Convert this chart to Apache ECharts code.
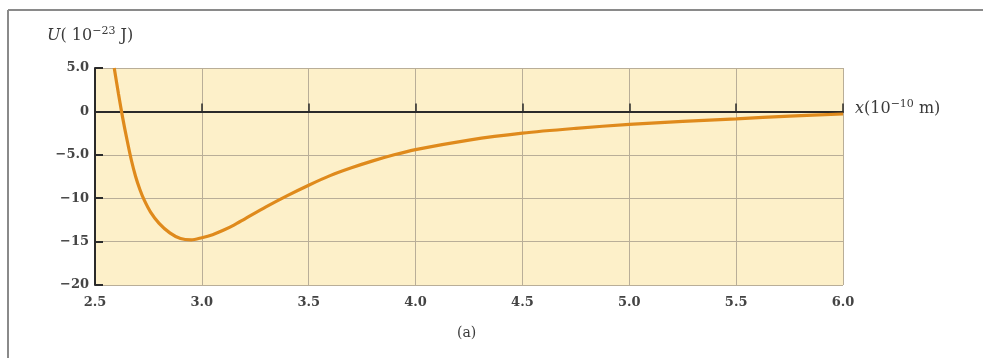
<!DOCTYPE html>
<html>
<head>
<meta charset="utf-8">
<script src="https://cdn.jsdelivr.net/npm/echarts@6/dist/echarts.min.js"></script>
<style>html,body{margin:0;padding:0;background:#fff}#c{width:983px;height:358px}</style>
</head>
<body>
<div id="c"></div>
<script>
const xValues = [2.59, 2.61, 2.63, 2.65, 2.67, 2.69, 2.71, 2.73, 2.76, 2.80, 2.85, 2.90, 2.95, 3.0, 3.05, 3.10, 3.15, 3.2, 3.3, 3.4, 3.5, 3.6, 3.7, 3.8, 3.9, 4.0, 4.25, 4.5, 4.75, 5.0, 5.25, 5.5, 5.75, 6.0];
const uValues = [5.0, 2.0, -0.8, -3.3, -5.6, -7.5, -9.0, -10.2, -11.6, -12.9, -14.0, -14.65, -14.8, -14.55, -14.2, -13.7, -13.1, -12.4, -11.0, -9.7, -8.5, -7.4, -6.5, -5.7, -5.0, -4.4, -3.3, -2.5, -1.95, -1.5, -1.15, -0.85, -0.55, -0.3];
const xTickLabels = {2.5: '2.5', 3: '3.0', 3.5: '3.5', 4: '4.0', 4.5: '4.5', 5: '5.0', 5.5: '5.5', 6: '6.0'};
const yTickLabels = {5: '5.0', 0: '0', '-5': '\u22125.0', '-10': '\u221210', '-15': '\u221215', '-20': '\u221220'};

const serif = '"DejaVu Serif", "Liberation Serif", serif';
const labelStyle = {fontFamily: serif, fontSize: 13, fontWeight: 'bold', color: '#444'};
const gridColor = '#b9ae98';
const txt = '#3a3a3a';

const chart = echarts.init(document.getElementById('c'), null, {renderer: 'canvas'});
chart.setOption({
  animation: false,
  backgroundColor: '#fff',
  grid: {left: 95, right: 140, top: 68, bottom: 73, show: true, backgroundColor: '#fdf0c9', borderWidth: 0},
  xAxis: [{
    type: 'value', min: 2.5, max: 6.0, interval: 0.5,
    axisLine: {show: true, onZero: true, lineStyle: {color: '#2a2a2a', width: 2}},
    axisTick: {show: true, inside: true, length: 8, lineStyle: {color: '#2a2a2a', width: 1.5}},
    axisLabel: {show: false},
    splitLine: {show: true, lineStyle: {color: gridColor, width: 1}}
  }, {
    type: 'value', min: 2.5, max: 6.0, interval: 0.5, position: 'bottom',
    axisLine: {show: false, onZero: false},
    axisTick: {show: false},
    axisLabel: Object.assign({margin: 11, formatter: v => xTickLabels[v] || ''}, labelStyle),
    splitLine: {show: false}
  }],
  yAxis: {
    type: 'value', min: -20, max: 5, interval: 5,
    axisLine: {show: true, onZero: false, lineStyle: {color: '#2a2a2a', width: 2}},
    axisTick: {show: true, inside: true, length: 8, lineStyle: {color: '#2a2a2a', width: 2}},
    axisLabel: Object.assign({margin: 6, formatter: v => yTickLabels[v] || ''}, labelStyle),
    splitLine: {show: true, lineStyle: {color: gridColor, width: 1}}
  },
  series: [{
    type: 'line', xAxisIndex: 0, smooth: 0.3, showSymbol: false, clip: true,
    data: xValues.map((x, i) => [x, uValues[i]]),
    lineStyle: {color: '#df8a1c', width: 3.2},
    z: 5
  }],
  graphic: [
    {type: 'line', shape: {x1: 8, y1: 10, x2: 983, y2: 10}, style: {stroke: '#8a8a8a', lineWidth: 2}},
    {type: 'line', shape: {x1: 8, y1: 10, x2: 8, y2: 358}, style: {stroke: '#8a8a8a', lineWidth: 2}},
    {type: 'text', left: 47, top: 26, style: {
      text: '{i|U}{n|( 10}{s|\u221223}{n| J)}',
      rich: {
        i: {fontFamily: serif, fontStyle: 'italic', fontSize: 16, fill: txt, color: txt},
        n: {fontFamily: serif, fontSize: 16, fill: txt, color: txt},
        s: {fontFamily: serif, fontSize: 11, fill: txt, color: txt, padding: [0, 0, 9, 0]}
      }
    }},
    {type: 'text', left: 855, top: 99, style: {
      text: '{i|x}{n|(10}{s|\u221210}{n| m)}',
      rich: {
        i: {fontFamily: serif, fontStyle: 'italic', fontSize: 16, fill: txt, color: txt},
        n: {fontFamily: serif, fontSize: 16, fill: txt, color: txt},
        s: {fontFamily: serif, fontSize: 11, fill: txt, color: txt, padding: [0, 0, 9, 0]}
      }
    }},
    {type: 'text', left: 457, top: 326, style: {text: '(a)', font: '14px ' + serif, fill: txt}}
  ]
});
</script>
</body>
</html>
